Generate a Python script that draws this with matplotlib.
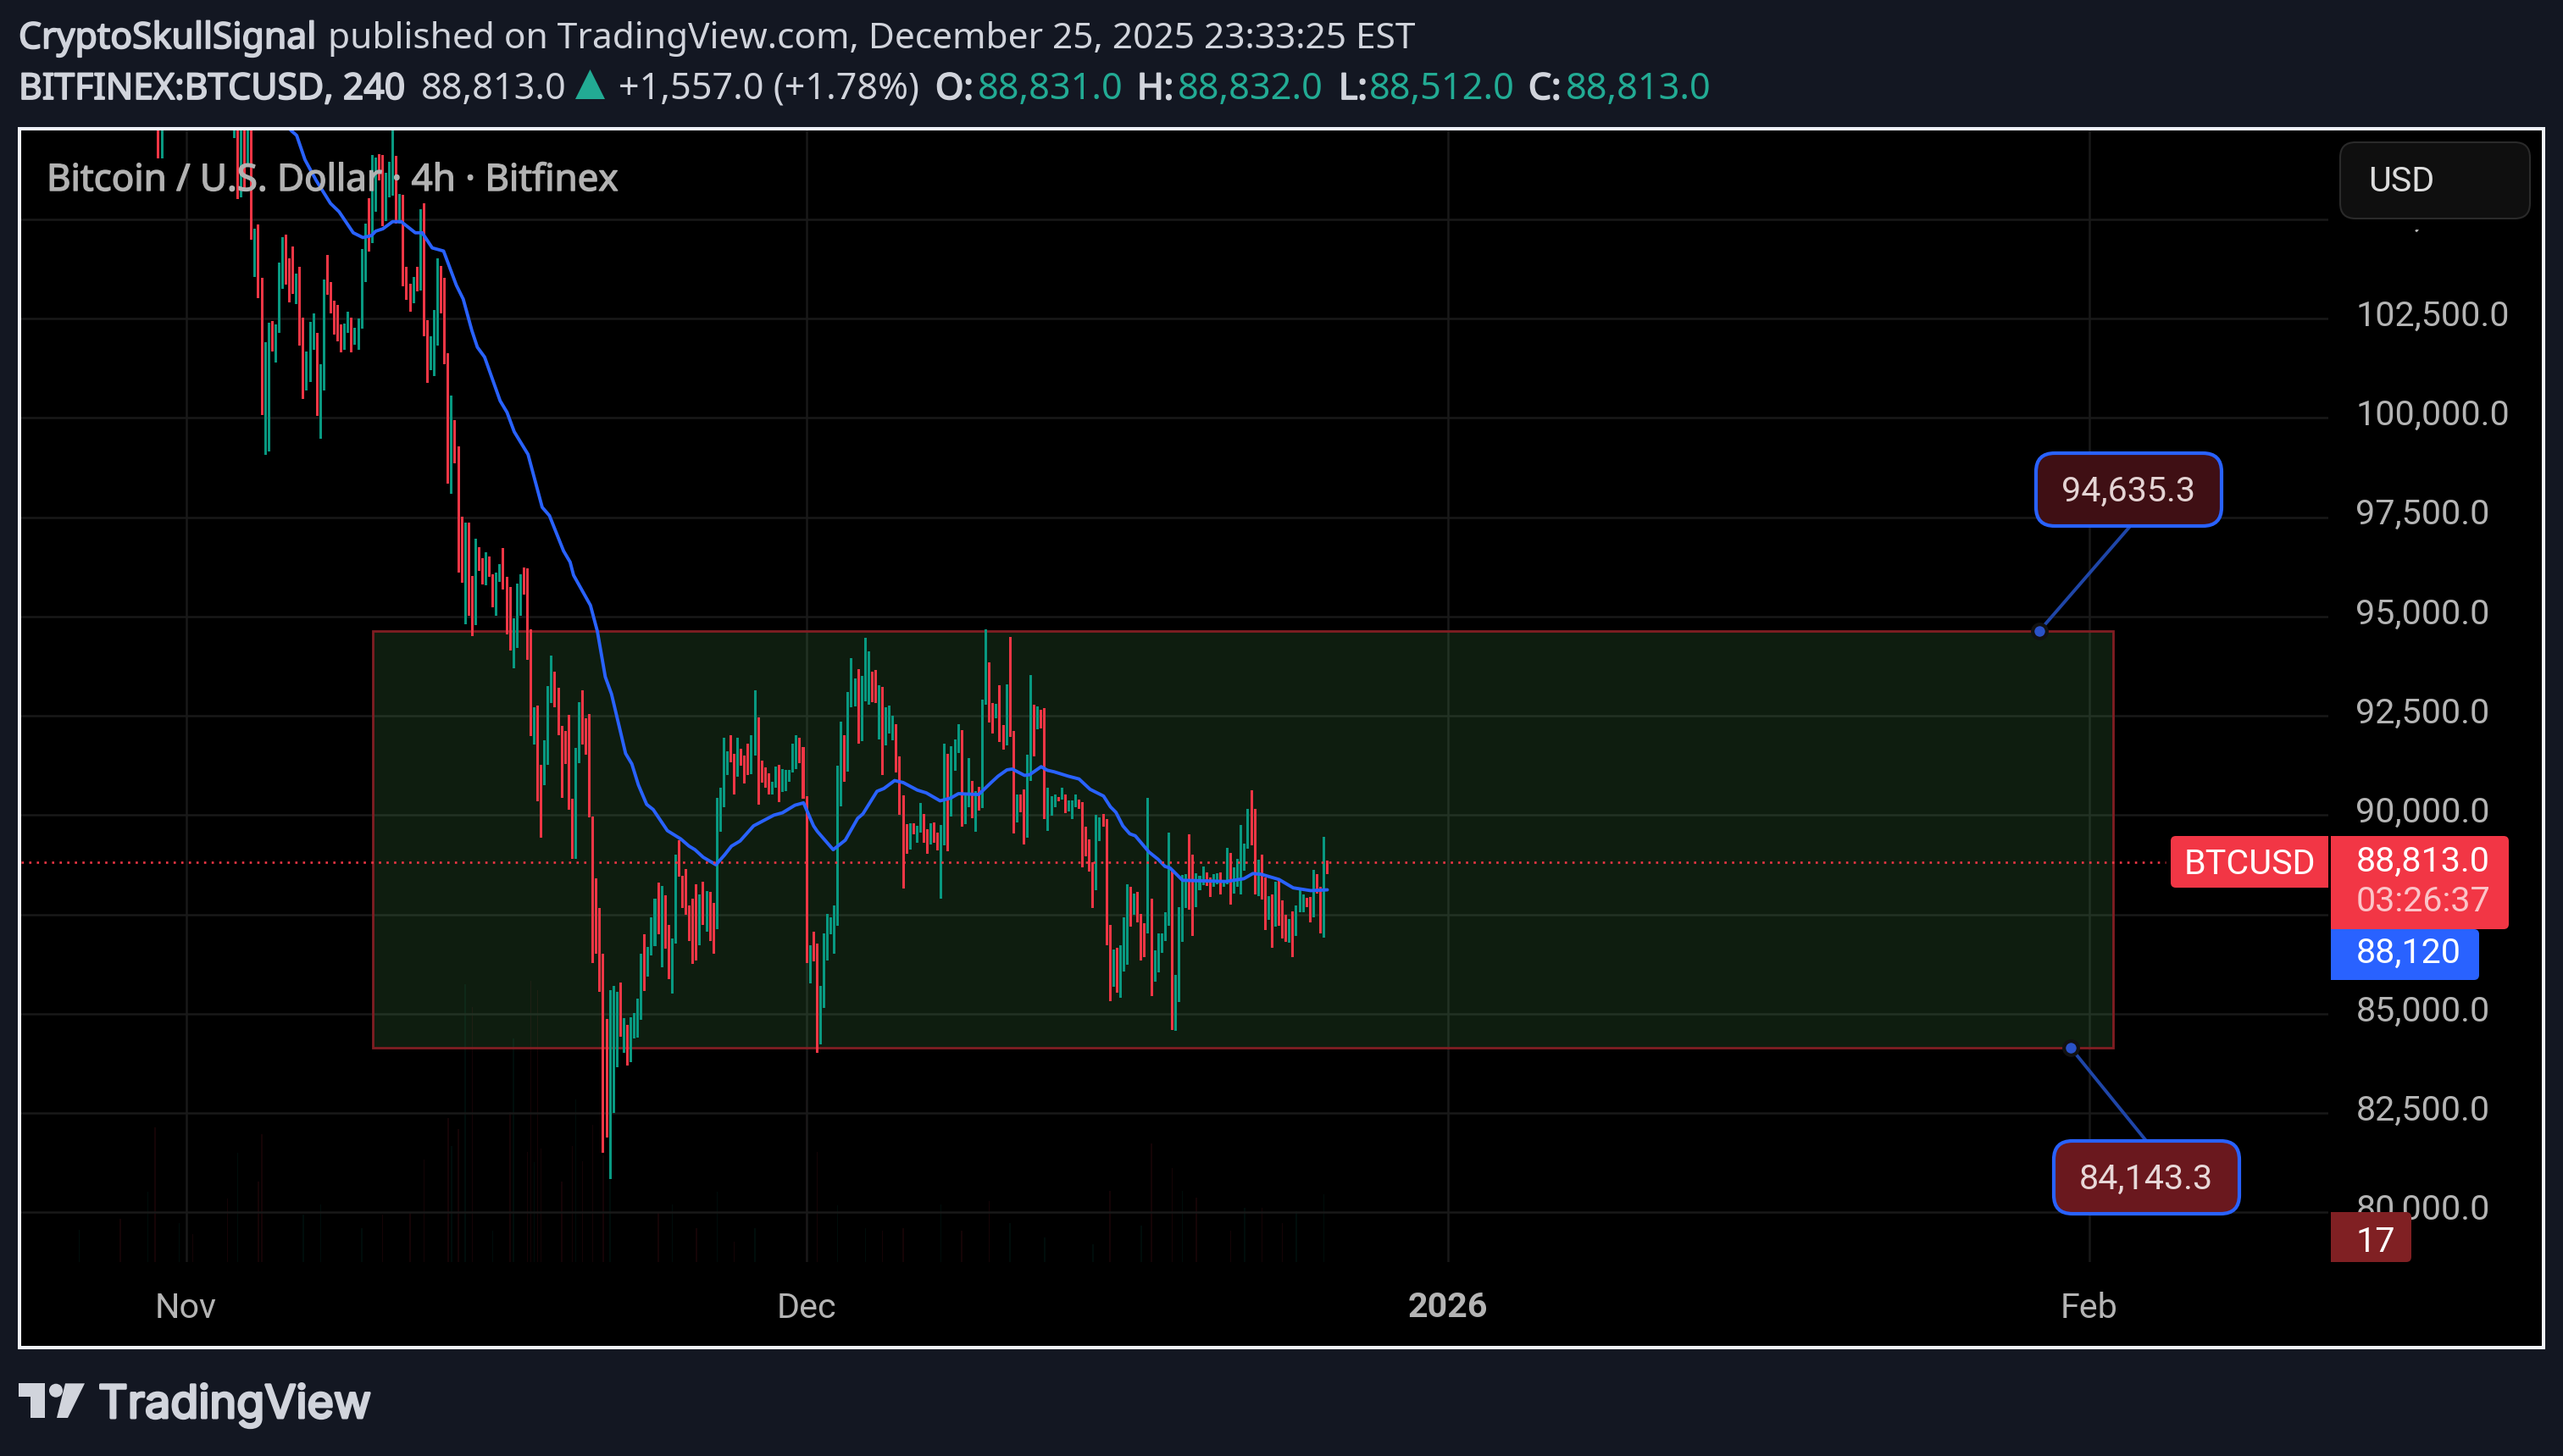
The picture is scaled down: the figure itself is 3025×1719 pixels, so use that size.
import numpy as np
import matplotlib
matplotlib.use('Agg')
import matplotlib.pyplot as plt
import matplotlib.patheffects as pe
from matplotlib.patches import FancyBboxPatch, Rectangle, Polygon, Circle
from matplotlib.transforms import Affine2D

W, H = 3025, 1719
nan = float('nan')

# bars are counted from the Dec 1 candle (4h bars)
first_bar = -188
highs = [
    107500, 107500,
    nan, nan, nan, nan, nan, nan, nan, nan, nan, nan, nan, nan, nan, nan, nan, nan, nan, nan, nan, nan,
    107500, 107500, 107500, 107500, 107500, 107500, 104760, 104870, 103520, 101910,
    102400, 102430, 102350, 103910, 104560, 104610, 104020, 104310, 103630, 103800,
    102520, 101680, 102420, 102640, 102150, 101350, 103480, 104110, 103410, 102940,
    102840, 102350, 102370, 102670, 102520, 102260, 102500, 104260, 104880, 105520,
    106610, 106550, 106630, 106610, 106180, 106440, 107500, 106590, 105630, 105610,
    103800, 103370, 103540, 103800, 105250, 105400, 102450, 102050, 102710, 104010,
    103820, 103520, 101620, 100560, 99940, 99280,
    97510, 97370, 97370, 96020, 96960, 96750, 96470, 96620, 96510, 96060,
    96100, 96320, 96730, 96000, 95740, 94950, 95830, 96060, 96240, 96210,
    94670, 92720, 92750, 91270, 91880, 93240, 94020, 93610, 93200, 92240,
    92120, 92530, 90420, 91690, 92840, 93150, 92440, 92550, 89970, 88400,
    87660, 86510, 84870, 85600, 85700, 85550, 85780, 84890, 84720, 84910,
    85020, 85380, 86510, 87000, 86680, 87420, 87890, 88300, 88220, 87980,
    87240, 86890, 89000, 89370, 88470, 88640, 87730, 87890, 88260, 88000,
    88330, 88090, 88070, 87790, 90440, 90690, 91950, 91600, 92010, 91550,
    91950, 91670, 91500, 91800, 92010, 93150, 92460, 91370, 91200, 91060,
    90840, 91220, 91270, 91160, 91130, 91130, 91800, 92010, 91950, 91710,
    90470, 86730, 87060, 86770, 85700, 87030, 87520, 87430, 87730, 91240,
    92350, 92010, 93090, 93960, 93440, 93670, 93510, 94460, 94120, 93610,
    93650, 93270, 93220, 92720, 92750, 92500, 92300, 91480, 90490, 89770,
    89790, 89790, 89740, 90300, 90030, 89650, 89790, 89810, 89570, 89760,
    91790, 91540, 91730, 91910, 92280, 92140, 90560, 91430, 90870, 90600,
    90710, 92900, 94670, 93840, 92820, 92800, 93270, 92270, 93300, 94480,
    92110, 90520, 90530, 90640, 91530, 93520, 92770, 92730, 92650, 92690,
    90700, 90470, 90510, 90450, 90680, 90530, 90370, 90370, 90530, 90390,
    90330, 89700, 89400, 88810, 90000, 89950, 90020, 89900, 87240, 86620,
    86650, 86730, 87430, 88270, 88190, 88020, 88060, 87510, 87280, 90430,
    87890, 86590, 87020, 87020, 87550, 89550, 88620, 85980, 87680, 88490,
    88510, 89510, 89000, 88530, 88470, 88700, 88550, 88440, 88520, 88530,
    88560, 88340, 89170, 89050, 88680, 88890, 89760, 89290, 90150, 90620,
    90150, 88870, 89000, 88420, 87970, 88000, 88320, 88380, 87850, 87490,
    87390, 87570, 87720, 88100, 88000, 87920, 87940, 88620, 88520, 88190,
    89450, 88850,
]
lows = [
    106540, 106540,
    nan, nan, nan, nan, nan, nan, nan, nan, nan, nan, nan, nan, nan, nan, nan, nan, nan, nan, nan, nan,
    107040, 105500, 105550, 105720, 106330, 104480, 103540, 103020, 100070, 99080,
    99160, 101670, 101400, 102150, 103240, 103360, 102910, 103130, 102870, 101830,
    100480, 100680, 100910, 101720, 100040, 99480, 100680, 103110, 102640, 102100,
    101930, 101640, 101720, 102150, 101640, 101850, 101720, 102250, 103430, 104190,
    104390, 105190, 105970, 104830, 104960, 105550, 105590, 104880, 104880, 103320,
    102980, 102680, 102890, 103190, 103210, 102060, 100890, 101210, 101060, 101830,
    102640, 101360, 98350, 98080, 98860, 96110,
    95850, 94800, 95020, 94500, 94790, 96150, 95810, 95790, 96010, 95240,
    95020, 95870, 95680, 94540, 94150, 93700, 94210, 95020, 95550, 93910,
    91990, 91780, 90350, 89440, 90750, 91270, 92820, 92710, 92010, 90440,
    91290, 90130, 88900, 88900, 91310, 91780, 91530, 89950, 86270, 86510,
    85550, 81500, 81890, 80840, 82510, 83650, 84420, 84020, 83690, 83780,
    84380, 84400, 84850, 85570, 85930, 86470, 86710, 87000, 86170, 86640,
    85870, 85510, 86770, 88450, 87660, 87490, 86830, 86260, 86330, 86730,
    87240, 87060, 86830, 86510, 87130, 89580, 90200, 91010, 91330, 90530,
    90970, 91240, 90800, 91010, 91040, 91500, 90260, 90820, 90690, 90530,
    90530, 90690, 90330, 90580, 90600, 90840, 91070, 91160, 91310, 90420,
    86280, 85760, 86310, 84020, 84230, 85150, 86350, 87000, 86520, 87220,
    90230, 90830, 91090, 92720, 92740, 91800, 91860, 92860, 92770, 92840,
    92830, 91910, 91020, 91750, 92060, 91890, 91080, 90010, 88160, 89020,
    89140, 89510, 89310, 89560, 89300, 89020, 89270, 89310, 89120, 87900,
    89230, 89100, 89970, 91120, 91570, 89720, 89770, 90200, 89930, 89590,
    90120, 90180, 92780, 92340, 92060, 92440, 91850, 91660, 91750, 91960,
    89530, 89820, 90070, 89270, 89440, 90870, 91470, 92170, 92190, 89910,
    89610, 89990, 90200, 90350, 90400, 90060, 90100, 89910, 90200, 90150,
    88690, 88960, 88570, 87670, 88120, 89350, 89700, 86730, 85310, 85690,
    85540, 85410, 86060, 86240, 87200, 87500, 87300, 86330, 86430, 87030,
    85450, 85810, 86050, 86540, 86840, 87220, 84600, 84580, 85290, 86820,
    87660, 87630, 86950, 87690, 88100, 88230, 88210, 87950, 88200, 88260,
    88010, 88190, 88260, 87740, 88020, 88190, 88010, 88610, 89150, 89250,
    88000, 87970, 87880, 87110, 87370, 86670, 87190, 87220, 86890, 86810,
    86780, 86430, 86950, 87550, 87550, 87690, 87290, 87430, 88030, 87030,
    86920, 88520,
]
directions = (
    "du" + "dddddddddddddddddddd"
    + "ududududdu" "uduuudddud" "duuuduuddd" "dduuduuuud" "uudduuudud" "ddududduuu" "dddudd"
    + "dudduddudd" "uuddduuudd" "dudduuuddd" "ddduuddddd" "ddduuududu"
    + "uuuduuudud" "duuddddddu" "dudduuuudd" "uddduudddd" "uuduuuuudd"
    + "dudduuuuuu" "uduuuduuud" "duduuudddd" "uduudduddu" "uduuuduudu"
    + "duuddud" "dud" "dudduududd" "uuududuuud" "dddduudddu" "duuududddu"
    + "duuuuuduuu" "udduuudduu" "duuduuuuud" "duddududdd" "uduuuddudd" "ud"
)

ma_bars = [-152, -149.6, -147.9, -145.5, -142.2, -138.1, -135.6, -131.5, -128.7, -126.2, -125, -122.9,
           -120.1, -117.6, -113.5, -111.5, -108.6, -105.3, -101.6, -99.6, -97.1, -95.5, -93.4, -88.9,
           -86.9, -84.8, -80.8, -76.7, -74.6, -70.5, -68.6, -67.6, -62.7, -60.7, -58.4, -56.6, -52.5,
           -50.7, -48.8, -46.4, -44.5, -40.4, -36.5, -34.1, -32.4, -30, -26.3, -23.8, -21.8, -19.3,
           -15.4, -9.5, -7, -3.4, -0.9, 2, 3.1, 7.7, 11.2, 14.8, 16.3, 20.4, 22.4, 25.5, 28, 32.1, 34.7,
           38.7, 41.8, 44, 49.9, 53.5, 55.5, 58.1, 59.6, 63.2, 64.7, 68, 69.8, 71.8, 75.9, 79, 82.2,
           86.1, 88.1, 89.7, 91.7, 93.7, 95.3, 99.3, 101.9, 103.9, 105.4, 109, 121.7, 126.8, 129.4,
           131.9, 137, 141.1, 146.2, 151]
ma_values = [107600, 107240, 107110, 106500, 105970, 105400, 105190, 104660, 104540, 104590, 104700, 104760,
             104940, 104940, 104660, 104660, 104280, 104200, 103340, 102990, 102200, 101780, 101530, 100430,
             100140, 99650, 99080, 97750, 97540, 96650, 96370, 96040, 95280, 94630, 93480, 93050, 91550,
             91290, 90760, 90270, 90140, 89610, 89400, 89220, 89130, 88940, 88750, 89000, 89220, 89350,
             89730, 90000, 90060, 90250, 90310, 89730, 89590, 89130, 89370, 89920, 90030, 90600, 90670, 90870, 90820, 90630, 90560,
             90360, 90430, 90540, 90520, 90820, 90980, 91140, 91160, 91000, 91020, 91220, 91130, 91090, 90980, 90910, 90650,
             90480, 90210, 90070, 89730, 89530, 89480, 89070, 88890, 88710, 88670, 88360, 88330, 88400, 88530,
             88510, 88380, 88170, 88100, 88120]

# volume peaks that can still be made out against the black
vol_bars = [-211, -199, -191, -189, -182, -178, -168, -165, -159, -158, -146, -141, -129, -123, -115, -111, -104,
            -103, -101, -99, -97, -91, -86, -85, -81, -80, -79, -78, -77, -71, -68, -67, -65, -62, -59, -57, -43,
            -39, -32, -26, -21, -15, 0, 3, 9, 17, 22, 28, 39, 45, 53, 59, 69, 83, 88, 97, 100, 106, 109, 113, 123,
            127, 132, 138, 142, 150]
vol_values = [24, 32, 52, 100, 29, 21, 47, 81, 60, 95, 35, 43, 25, 35, 37, 76, 107,
              86, 99, 206, 189, 23, 111, 166, 82, 209, 74, 202, 84, 60, 86, 121, 75, 102, 79, 90, 37,
              43, 25, 52, 15, 25, 120, 82, 42, 25, 23, 25, 43, 23, 45, 29, 18, 13, 53, 27, 88, 70, 53, 48, 23,
              40, 40, 29, 38, 50]
vol_up = [1, 0, 1, 0, 1, 0, 0, 1, 0, 0, 1, 1, 1, 0, 0, 0, 0,
          1, 0, 1, 0, 1, 0, 1, 0, 0, 1, 0, 0, 0, 0, 1, 0, 0, 0, 1, 0,
          1, 0, 1, 0, 1, 0, 0, 1, 1, 0, 0, 1, 0, 0, 1, 1, 1, 0, 1, 0, 0, 1, 0, 0,
          1, 0, 0, 1, 1]

y_ticks = [80000, 82500, 85000, 87500, 90000, 92500, 95000, 97500, 100000, 102500, 105000]
y_labels = ['80,000.0', '82,500.0', '85,000.0', '', '90,000.0', '92,500.0', '95,000.0', '97,500.0',
            '100,000.0', '102,500.0', '105,000.0']
month_bars = [-180, 0, 186, 372]
month_labels = ['Nov', 'Dec', '2026', 'Feb']

range_top = 94635.3
range_bottom = 84143.3
range_left, range_right = -125.8, 378.8
top_anchor_bar, bottom_anchor_bar = 357.5, 366.6
top_bubble_foot = (383.5, 97240)
bottom_bubble_head = (388.5, 81800)
close_price = 88813.0

BG = '#131722'
TXT = '#d1d4dc'
TEAL = '#22ab94'
RED = '#f23645'
GREEN = '#089981'
BLUE = '#2962ff'
AXIS_TXT = '#b4b4b4'
plt.rcParams['font.family'] = ['Roboto', 'DejaVu Sans']

fig = plt.figure(figsize=(W / 100, H / 100), dpi=100, facecolor=BG)


def px_axes(x0, y0, x1, y1, zorder):
    return fig.add_axes([x0 / W, 1 - y1 / H, (x1 - x0) / W, (y1 - y0) / H], zorder=zorder)


# frame behind everything
back = px_axes(0, 0, W, H, 0)
back.set_xlim(0, W)
back.set_ylim(H, 0)
back.axis('off')
back.add_patch(Rectangle((23, 152), 2979, 1439, facecolor='black', edgecolor='#f0f3fa', linewidth=2.9))

# volume pane shares the chart's box
vol = px_axes(25, 154, 2748, 1490, 1)
ax = px_axes(25, 154, 2748, 1490, 2)
ax.patch.set_visible(False)

xlim = (-227.8, 441.3)
vol.set_xlim(*xlim)
vol.set_ylim(0, 840)
vol.axis('off')
for b, v, u in zip(vol_bars, vol_values, vol_up):
    vol.bar(b, v, width=0.35, color=GREEN if u else RED, alpha=0.09, linewidth=0)

ax.set_xlim(*xlim)
ax.set_ylim(78750, 107236)
for s in ax.spines.values():
    s.set_visible(False)
ax.yaxis.tick_right()
ax.set_yticks(y_ticks)
ax.set_yticklabels(y_labels, va='center')
ax.set_xticks(month_bars)
ax.set_xticklabels(month_labels)
ax.tick_params(axis='y', length=0, pad=23.4, labelsize=29.7, labelcolor=AXIS_TXT)
ax.tick_params(axis='x', length=0, pad=25, labelsize=29.7, labelcolor=AXIS_TXT)
ax.get_xticklabels()[2].set_fontweight('bold')
ax.set_axisbelow(True)
ax.grid(True, color='#191919', linewidth=1.8)
# price labels sit a little above their grid line
for tick in ax.yaxis.get_major_ticks():
    tick.label2.set_transform(tick.label2.get_transform() + Affine2D().translate(0, 3))

ax.add_patch(Rectangle((range_left, range_bottom), range_right - range_left, range_top - range_bottom,
                       facecolor=(0.30, 0.62, 0.33, 0.19), edgecolor='#801e23', linewidth=2.0, zorder=1))

bars = np.arange(first_bar, first_bar + len(highs))
highs = np.array(highs)
lows = np.array(lows)
is_up = np.array([d == 'u' for d in directions])
ax.bar(bars[is_up], highs[is_up] - lows[is_up], bottom=lows[is_up], width=0.74, color=GREEN, linewidth=0, zorder=2)
ax.bar(bars[~is_up], highs[~is_up] - lows[~is_up], bottom=lows[~is_up], width=0.74, color=RED, linewidth=0, zorder=2)

ax.plot(ma_bars, ma_values, color=BLUE, linewidth=2.8, zorder=3, solid_capstyle='round')
ax.plot([xlim[0], 394], [close_price, close_price], color=RED, linewidth=1.9, zorder=4, dashes=(1, 2.4))

# callout stems
for bar, price, foot in [(top_anchor_bar, range_top, top_bubble_foot), (bottom_anchor_bar, range_bottom, bottom_bubble_head)]:
    ax.plot([bar, foot[0]], [price, foot[1]], color='#1f46a8', linewidth=2.8, zorder=5)
    ax.plot([bar], [price], 'o', ms=12, mfc='#2a52c8', mec='#111111', mew=3, zorder=6)

# everything on top of the chart, in image pixels
top = px_axes(0, 0, W, H, 3)
top.set_xlim(0, W)
top.set_ylim(H, 0)
top.axis('off')
top.patch.set_visible(False)


def box(x0, y0, x1, y1, color, r=6, edge='none', lw=0):
    top.add_patch(FancyBboxPatch((x0 + r, y0 + r), x1 - x0 - 2 * r, y1 - y0 - 2 * r,
                                 boxstyle=f'round,pad={r},rounding_size={r}',
                                 facecolor=color, edgecolor=edge, linewidth=lw))


def label(x, y, s, color='white', size=29.7, ha='left', va='center', **kw):
    top.text(x, y, s, color=color, fontsize=size, ha=ha, va=va, **kw)


# right hand price labels
box(2562, 987, 2748, 1048, RED)
top.add_patch(Rectangle((2700, 987), 48, 61, facecolor=RED, linewidth=0))
label(2655, 1020, 'BTCUSD', ha='center')
box(2751, 987, 2961, 1097, RED)
top.add_patch(Rectangle((2751, 987), 30, 110, facecolor=RED, linewidth=0))
label(2781, 1017, '88,813.0')
label(2781, 1065, '03:26:37', color='#fbc4c8')
box(2751, 1097, 2926, 1157, BLUE)
top.add_patch(Rectangle((2751, 1097), 30, 60, facecolor=BLUE, linewidth=0))
label(2781, 1125, '88,120')
box(2751, 1431, 2846, 1490, '#802023')
top.add_patch(Rectangle((2751, 1431), 30, 59, facecolor='#802023', linewidth=0))
label(2781, 1466, '17')
# the USD button also hides the 105,000 label, down to its comma
top.add_patch(Rectangle((2755, 154), 245, 117, facecolor='black', linewidth=0))
box(2762, 168, 2986, 258, '#0f0f0f', r=18, edge='#2a2a2a', lw=1.5)
label(2795, 214, 'USD', color='#dcdcdc')

# callouts
box(2403, 535, 2622, 621, '#3f0f14', r=22, edge=BLUE, lw=3.0)
label(2512, 580, '94,635.3', color='#e4d4d4', ha='center')
box(2424, 1347, 2643, 1433, '#6a181e', r=22, edge=BLUE, lw=3.0)
label(2533, 1392, '84,143.3', color='#e8d8d8', ha='center')

# header, Noto Sans only comes in one weight here so bold gets a stroke
HF = ['Noto Sans', 'DejaVu Sans']


def head(x, y, s, color=TXT, bold=False, size=30.8, stroke=1.3):
    t = top.text(x, y, s, color=color, fontsize=size, family=HF, ha='left', va='baseline')
    if bold:
        t.set_path_effects([pe.withStroke(linewidth=stroke, foreground=color)])


head(22, 57, 'CryptoSkullSignal', bold=True)
head(387, 57, 'published on TradingView.com, December 25, 2025 23:33:25 EST', size=30.55)
head(22, 117, 'BITFINEX:BTCUSD, 240', bold=True)
head(497, 117, '88,813.0', size=31.2)
top.add_patch(Polygon([(679, 117), (714, 117), (696.5, 82)], facecolor=TEAL, linewidth=0))
head(730, 117, '+1,557.0 (+1.78%)', size=31.1)
for x, s in [(1104, 'O:'), (1342, 'H:'), (1580, 'L:'), (1804, 'C:')]:
    head(x, 117, s, bold=True)
for x, s in [(1154, '88,831.0'), (1390, '88,832.0'), (1616, '88,512.0'), (1848, '88,813.0')]:
    head(x, 117, s, color=TEAL, size=31.2)
head(55, 225, 'Bitcoin / U.S. Dollar · 4h · Bitfinex', color='#b2b2b2', bold=True, size=31.6, stroke=1.0)

# logo
LOGO = '#d1d4dc'
top.add_patch(Polygon([(21.7, 1633.3), (53, 1633.3), (53, 1674), (36, 1674), (36, 1649), (21.7, 1649)], facecolor=LOGO, linewidth=0))
top.add_patch(Circle((66, 1641.7), 8, facecolor=LOGO, linewidth=0))
top.add_patch(Polygon([(77, 1633.3), (100, 1633.3), (80, 1674), (67, 1674)], facecolor=LOGO, linewidth=0))
t = top.text(116, 1674, 'TradingView', color=LOGO, fontsize=38.8, family=['Inter', 'DejaVu Sans'],
             ha='left', va='baseline')
t.set_path_effects([pe.withStroke(linewidth=2.2, foreground=LOGO)])

fig.savefig('out.png', dpi=100, facecolor=BG)
